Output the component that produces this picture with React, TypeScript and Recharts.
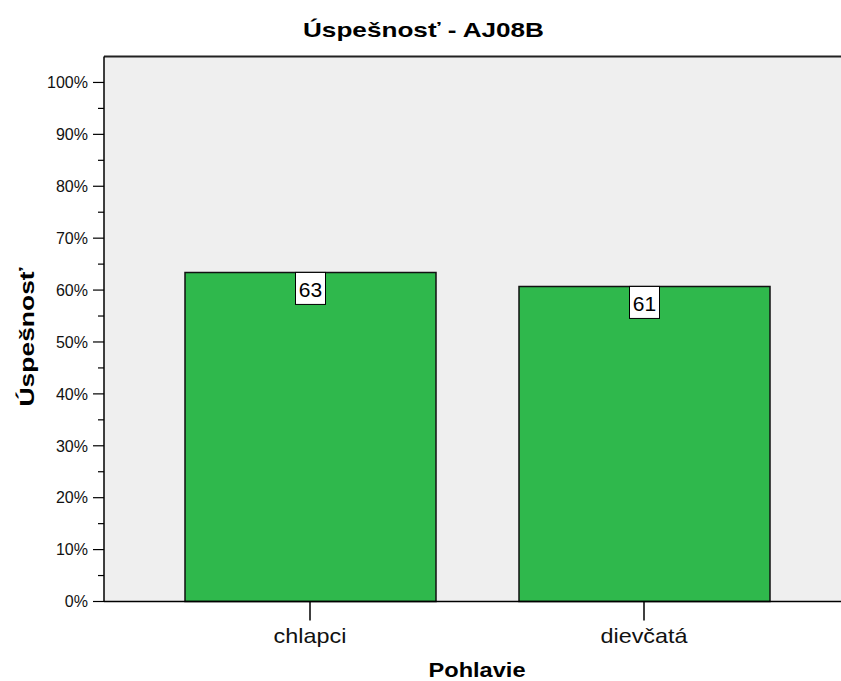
import React from "react";
import {
  BarChart,
  Bar,
  XAxis,
  YAxis,
  CartesianGrid,
  ReferenceLine,
  LabelList,
  Label,
} from "recharts";

const categories = ["chlapci", "dievčatá"];
const successRates = [63.4, 60.7];
const yTicks = [0, 5, 10, 15, 20, 25, 30, 35, 40, 45, 50, 55, 60, 65, 70, 75, 80, 85, 90, 95, 100];

const data = categories.map((name, i) => ({ name, value: successRates[i] }));

const FONT = "'Liberation Sans', Arial, sans-serif";
const PAD_LEFT = 39;
const PAD_RIGHT = 36;

function YTick(props: any) {
  const { x, y, payload } = props;
  const major = payload.value % 10 === 0;
  return (
    <g>
      <line x1={x - (major ? 11 : 6)} x2={x} y1={y} y2={y} stroke="#000" strokeWidth={1.2} />
      {major && (
        <text x={x - 16} y={y} dy="0.36em" textAnchor="end" fontSize={16} fontFamily={FONT} fill="#111">
          {payload.value}%
        </text>
      )}
    </g>
  );
}

function XTick(props: any) {
  const { x, y, payload } = props;
  return (
    <g>
      <line x1={x} x2={x} y1={y} y2={y + 19} stroke="#000" strokeWidth={1.5} />
      <g transform={`translate(${x},${y}) scale(1.17,1)`}>
        <text x={0} y={42} textAnchor="middle" fontSize={20} fontFamily={FONT} fill="#111">
          {payload.value}
        </text>
      </g>
    </g>
  );
}

function ValueBox(props: any) {
  const { x, y, width, value } = props;
  const cx = x + width / 2;
  return (
    <g>
      <rect x={cx - 15} y={y} width={30} height={32} fill="#fff" stroke="#000" strokeWidth={1} />
      <text x={cx} y={y + 24.5} textAnchor="middle" fontSize={21} fontFamily={FONT} fill="#000">
        {Math.round(value)}
      </text>
    </g>
  );
}

export default function App() {
  return (
    <div
      style={{
        position: "absolute",
        left: 0,
        top: 0,
        width: 841,
        height: 681,
        background: "#fff",
        overflow: "hidden",
      }}
    >
      <svg width={841} height={681} style={{ position: "absolute", left: 0, top: 0 }}>
        <text
          x={423.5}
          y={37.3}
          textAnchor="middle"
          fontSize={20.5}
          fontWeight="bold"
          fontFamily={FONT}
          fill="#000"
          textLength={241}
          lengthAdjust="spacingAndGlyphs"
        >
          Úspešnosť - AJ08B
        </text>
      </svg>
      <div style={{ position: "absolute", left: 0, top: 0 }}>
        <BarChart
          width={847}
          height={681}
          data={data}
          margin={{ top: 56.5, right: 0, left: 0, bottom: 0 }}
          barSize={251}
        >
          <CartesianGrid fill="#EFEFEF" stroke="none" horizontal={false} vertical={false} />
          <XAxis
            dataKey="name"
            padding={{ left: PAD_LEFT, right: PAD_RIGHT }}
            axisLine={{ stroke: "#000", strokeWidth: 1.5 }}
            tickLine={false}
            tickSize={0}
            tickMargin={0}
            tick={<XTick />}
            interval={0}
            height={79.5}
          >
            <Label
              content={(p: any) => {
                const vb = p.viewBox;
                const cx = vb.x + PAD_LEFT + (vb.width - PAD_LEFT - PAD_RIGHT) / 2;
                return (
                  <text
                    x={cx}
                    y={677}
                    textAnchor="middle"
                    fontSize={19.5}
                    fontWeight="bold"
                    fontFamily={FONT}
                    fill="#000"
                    textLength={97}
                    lengthAdjust="spacingAndGlyphs"
                  >
                    Pohlavie
                  </text>
                );
              }}
            />
          </XAxis>
          <YAxis
            width={104}
            domain={[0, 105]}
            ticks={yTicks}
            interval={0}
            axisLine={{ stroke: "#000", strokeWidth: 1.5 }}
            tickLine={false}
            tickSize={0}
            tickMargin={0}
            tick={<YTick />}
          >
            <Label
              content={() => (
                <text
                  transform="translate(34,337) rotate(-90)"
                  textAnchor="middle"
                  fontSize={20}
                  fontWeight="bold"
                  fontFamily={FONT}
                  fill="#000"
                  textLength={139}
                  lengthAdjust="spacingAndGlyphs"
                >
                  Úspešnosť
                </text>
              )}
            />
          </YAxis>
          <ReferenceLine y={105} stroke="#222" strokeWidth={2} ifOverflow="visible" />
          <Bar dataKey="value" fill="#2FB84C" stroke="#111" strokeWidth={1.5} isAnimationActive={false}>
            <LabelList dataKey="value" content={<ValueBox />} />
          </Bar>
        </BarChart>
      </div>
    </div>
  );
}
